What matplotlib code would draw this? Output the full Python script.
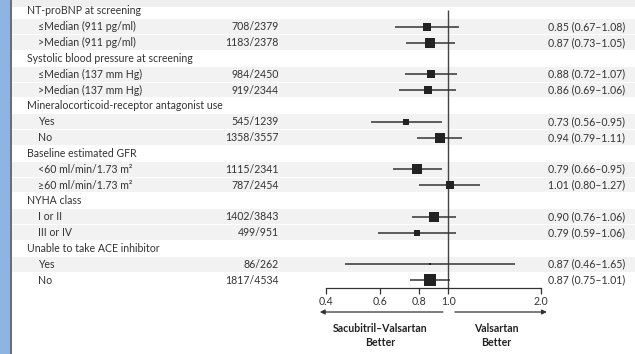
import numpy as np
import matplotlib.pyplot as plt
from matplotlib.patches import Rectangle
from matplotlib.transforms import blended_transform_factory
from matplotlib.ticker import FixedLocator, NullLocator

plt.rcParams['font.family'] = ['Lato', 'DejaVu Sans']

# Subgroup table: header rows have no counts / estimates
labels = ["NT-proBNP at screening",
          "≤Median (911 pg/ml)", ">Median (911 pg/ml)",
          "Systolic blood pressure at screening",
          "≤Median (137 mm Hg)", ">Median (137 mm Hg)",
          "Mineralocorticoid-receptor antagonist use",
          "Yes", "No",
          "Baseline estimated GFR",
          "<60 ml/min/1.73 m²", "≥60 ml/min/1.73 m²",
          "NYHA class",
          "I or II", "III or IV",
          "Unable to take ACE inhibitor",
          "Yes", "No"]
events   = [None, 708, 1183, None, 984, 919, None, 545, 1358, None, 1115, 787, None, 1402, 499, None, 86, 1817]
patients = [None, 2379, 2378, None, 2450, 2344, None, 1239, 3557, None, 2341, 2454, None, 3843, 951, None, 262, 4534]
hr       = [None, 0.85, 0.87, None, 0.88, 0.86, None, 0.73, 0.94, None, 0.79, 1.01, None, 0.90, 0.79, None, 0.87, 0.87]
ci_low   = [None, 0.67, 0.73, None, 0.72, 0.69, None, 0.56, 0.79, None, 0.66, 0.80, None, 0.76, 0.59, None, 0.46, 0.75]
ci_high  = [None, 1.08, 1.05, None, 1.07, 1.06, None, 0.95, 1.11, None, 0.95, 1.27, None, 1.06, 1.06, None, 1.65, 1.01]

ticks = [0.4, 0.6, 0.8, 1.0, 2.0]
tick_labels = ["0.4", "0.6", "0.8", "1.0", "2.0"]

W, H = 635, 354
fig = plt.figure(figsize=(W / 100, H / 100), dpi=100)
fig.patch.set_facecolor('white')

# row geometry (pixels)
row_h = 15.83
row0 = 10.9
axis_px = 288
x_lo_px, x_hi_px = 326, 541

ax = fig.add_axes([x_lo_px / W, (H - axis_px) / H, (x_hi_px - x_lo_px) / W, axis_px / H])
ax.set_xscale('log')
ax.set_xlim(0.4, 2.0)
ax.set_ylim((axis_px - row0) / row_h, -row0 / row_h)
ax.patch.set_alpha(0)
for s in ['top', 'right', 'left']:
    ax.spines[s].set_visible(False)
ax.spines['bottom'].set_color('#333333')
ax.spines['bottom'].set_linewidth(0.9)
ax.yaxis.set_visible(False)
ax.xaxis.set_major_locator(FixedLocator(ticks))
ax.xaxis.set_minor_locator(NullLocator())
ax.set_xticklabels(tick_labels)
ax.tick_params(axis='x', direction='out', length=4, width=0.9, color='#333333',
               labelsize=7.6, labelcolor='#333333', pad=2)

trans = blended_transform_factory(fig.transFigure, ax.transData)

# left blue strip and divider
fig.add_artist(Rectangle((0, 0), 10 / W, 1, transform=fig.transFigure,
                         facecolor='#8db4e2', edgecolor='none', zorder=-2))
fig.add_artist(Rectangle((10 / W, 0), 1.6 / W, 1, transform=fig.transFigure,
                         facecolor='#6e6e6e', edgecolor='none', zorder=-2))
fig.add_artist(Rectangle((11.6 / W, 1 - 7 / H), 1, 7 / H, transform=fig.transFigure,
                         facecolor='#efefef', edgecolor='none', zorder=-2))

n = len(labels)
for i in range(n):
    if events[i] is None:
        ax.text(27 / W, i, labels[i], transform=trans, ha='left', va='center',
                fontsize=7.6, color='#333333')
        continue
    if i != n - 1:
        fig.add_artist(Rectangle((11.6 / W, i - 0.47), 1, 0.94, transform=trans,
                                 facecolor='#f2f2f2', edgecolor='none', zorder=-1))
    ax.text(38 / W, i, labels[i], transform=trans, ha='left', va='center',
            fontsize=7.6, color='#333333')
    ax.text(279 / W, i, f"{events[i]}/{patients[i]}", transform=trans, ha='right',
            va='center', fontsize=7.6, color='#333333')
    ax.text(548 / W, i, f"{hr[i]:.2f} ({ci_low[i]:.2f}–{ci_high[i]:.2f})", transform=trans,
            ha='left', va='center', fontsize=7.6, color='#333333')

    # confidence interval and weighted square
    ax.hlines(i, ci_low[i], ci_high[i], color='#333333', lw=1.1, zorder=3)
    side = 12 * np.sqrt(events[i] / max(e for e in events if e)) * 0.72
    ax.plot(hr[i], i, marker='s', ms=side, mew=0, color='#222222', zorder=4)

# line of no effect
ax.vlines(1.0, (axis_px - row0) / row_h, -0.06, color='#444444', lw=1.0, zorder=2)

# direction arrows
arrow_y = (H - 312) / H
ax.annotate('', xy=(0.382, arrow_y), xytext=(0.96, arrow_y),
            xycoords=('data', 'figure fraction'), textcoords=('data', 'figure fraction'),
            arrowprops=dict(arrowstyle='-|>', color='#333333', lw=0.9,
                            mutation_scale=7, shrinkA=0, shrinkB=0))
ax.annotate('', xy=(2.09, arrow_y), xytext=(1.05, arrow_y),
            xycoords=('data', 'figure fraction'), textcoords=('data', 'figure fraction'),
            arrowprops=dict(arrowstyle='-|>', color='#333333', lw=0.9,
                            mutation_scale=7, shrinkA=0, shrinkB=0))

fig.text(380 / W, (H - 335.5) / H, "Sacubitril–Valsartan\nBetter", ha='center', va='center',
         fontsize=7.6, fontweight='bold', color='#222222', linespacing=1.35)
fig.text(496 / W, (H - 335.5) / H, "Valsartan\nBetter", ha='center', va='center',
         fontsize=7.6, fontweight='bold', color='#222222', linespacing=1.35)

fig.savefig('out.png', dpi=100)
